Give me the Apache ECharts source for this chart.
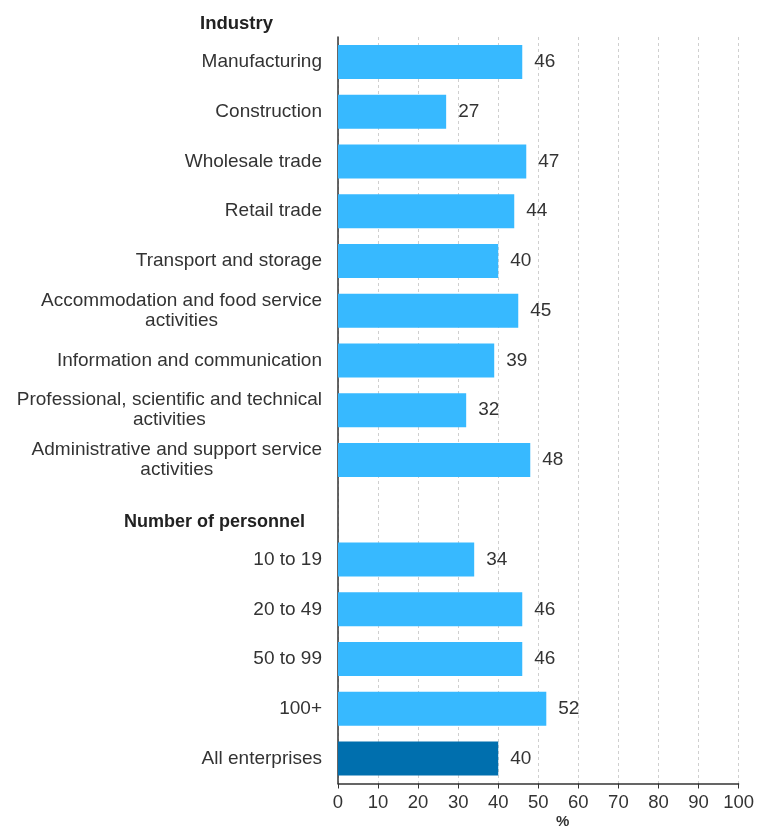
<!DOCTYPE html>
<html>
<head>
<meta charset="utf-8">
<script src="https://cdn.jsdelivr.net/npm/echarts@6/dist/echarts.min.js"></script>
<style>
html,body{margin:0;padding:0;background:#fff;}
#chart{width:757px;height:828px;}
</style>
</head>
<body>
<div id="chart"></div>
<script>
const categories = [
  'Manufacturing',
  'Construction',
  'Wholesale trade',
  'Retail trade',
  'Transport and storage',
  'Accommodation and food service\nactivities',
  'Information and communication',
  'Professional, scientific and technical\nactivities',
  'Administrative and support service\nactivities',
  'Number of personnel',
  '10 to 19',
  '20 to 49',
  '50 to 99',
  '100+',
  'All enterprises'
];
const values = [46, 27, 47, 44, 40, 45, 39, 32, 48, null, 34, 46, 46, 52, 40];
const xTicks = [0, 10, 20, 30, 40, 50, 60, 70, 80, 90, 100];
const headerTop = 'Industry';
const headerMid = 'Number of personnel';
const highlight = 'All enterprises';
const axisName = '%';

const FONT = '"Liberation Sans", Arial, sans-serif';
const LIGHT = '#37B9FF';
const DARK = '#006FAE';

const chart = echarts.init(document.getElementById('chart'), null, {renderer: 'canvas'});
chart.setOption({
  animation: false,
  backgroundColor: '#ffffff',
  textStyle: {fontFamily: FONT},
  title: {
    text: headerTop,
    left: 200,
    top: 14,
    padding: 0,
    textStyle: {fontFamily: FONT, fontSize: 18.5, fontWeight: 'bold', color: '#222'}
  },
  graphic: [{
    type: 'text',
    left: 556,
    top: 814,
    style: {text: axisName, fontFamily: FONT, fontSize: 15, fontWeight: 'bold', fill: '#333'}
  }],
  grid: {left: 338, right: 14, top: 37, bottom: 44.5, containLabel: false},
  xAxis: {
    type: 'value',
    min: xTicks[0],
    max: xTicks[xTicks.length - 1],
    interval: xTicks[1] - xTicks[0],
    axisLine: {show: true, lineStyle: {color: '#333', width: 1.5}},
    axisTick: {show: true, length: 5, lineStyle: {color: '#333'}},
    axisLabel: {fontSize: 18.5, color: '#333', margin: 10, fontFamily: FONT},
    splitLine: {show: true, lineStyle: {type: [3, 3], color: '#cfcfcf', width: 1}}
  },
  yAxis: {
    type: 'category',
    inverse: true,
    data: categories,
    axisLine: {show: true, lineStyle: {color: '#333', width: 1.5}},
    axisTick: {show: false},
    axisLabel: {
      margin: 16,
      color: '#333',
      fontFamily: FONT,
      fontSize: 19,
      formatter: function (v) {
        if (v === headerMid) return '{h|' + v + '}';
        return v.split('\n').map(function (l) { return '{c|' + l + '}'; }).join('\n');
      },
      rich: {
        c: {fontSize: 19, lineHeight: 20, align: 'center', color: '#333', fontFamily: FONT},
        h: {fontSize: 18, fontWeight: 'bold', color: '#222', padding: [24, 17, 0, 0], fontFamily: FONT}
      }
    }
  },
  series: [{
    type: 'bar',
    barWidth: 34,
    data: values.map(function (v, i) {
      return {
        value: v,
        itemStyle: {color: categories[i] === highlight ? DARK : LIGHT}
      };
    }),
    label: {
      show: true,
      position: 'right',
      distance: 12,
      fontSize: 19,
      color: '#333',
      fontFamily: FONT
    }
  }]
});
</script>
</body>
</html>
